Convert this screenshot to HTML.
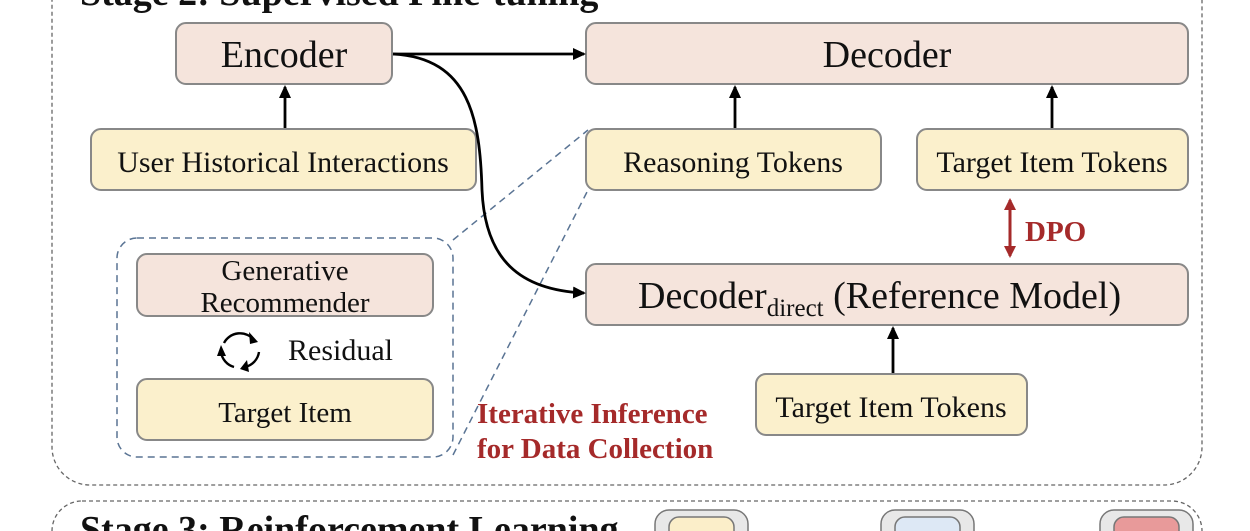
<!DOCTYPE html>
<html><head><meta charset="utf-8"><style>
html,body{margin:0;padding:0;background:#fff;width:1250px;height:531px;overflow:hidden}
svg{display:block}
text{font-family:"Liberation Serif",serif;fill:#111}
</style></head><body>
<svg width="1250" height="531" viewBox="0 0 1250 531" xmlns="http://www.w3.org/2000/svg">
<defs>
<marker id="ah" markerWidth="14" markerHeight="14" refX="11" refY="6" orient="auto" markerUnits="userSpaceOnUse"><path d="M0,0 L13,6 L0,12 z" fill="#000"/></marker>
<marker id="rh" markerWidth="14" markerHeight="14" refX="10" refY="6" orient="auto-start-reverse" markerUnits="userSpaceOnUse"><path d="M0,0 L12,6 L0,12 z" fill="#a52a2a"/></marker>
</defs>
<rect x="52" y="-60" width="1150" height="545" rx="38" fill="none" stroke="#666" stroke-width="1.3" stroke-dasharray="4,3"/>
<text x="80" y="5" font-size="38" font-weight="bold">Stage 2: Supervised Fine-tuning</text>
<rect x="52" y="501" width="1150" height="100" rx="30" fill="none" stroke="#666" stroke-width="1.3" stroke-dasharray="4,3"/>
<text x="80" y="542" font-size="38" font-weight="bold">Stage 3: Reinforcement Learning</text>
<rect x="655" y="510" width="93" height="50" rx="14" fill="#e8e8e8" stroke="#777" stroke-width="1.5"/>
<rect x="669" y="517" width="65" height="40" rx="10" fill="#fbeec9" stroke="#777" stroke-width="1.5"/>
<rect x="881" y="510" width="93" height="50" rx="14" fill="#e8e8e8" stroke="#777" stroke-width="1.5"/>
<rect x="895" y="517" width="65" height="40" rx="10" fill="#dde8f5" stroke="#777" stroke-width="1.5"/>
<rect x="1100" y="510" width="93" height="50" rx="14" fill="#e8e8e8" stroke="#777" stroke-width="1.5"/>
<rect x="1114" y="517" width="65" height="40" rx="10" fill="#e89a9a" stroke="#777" stroke-width="1.5"/>

<line x1="453" y1="240" x2="588" y2="130" stroke="#5a7494" stroke-width="1.5" stroke-dasharray="7,5"/>
<line x1="453" y1="455" x2="588" y2="190" stroke="#5a7494" stroke-width="1.5" stroke-dasharray="7,5"/>

<g stroke="#888" stroke-width="2">
<rect x="176" y="23" width="216" height="61" rx="10" fill="#f5e4dc"/>
<rect x="586" y="23" width="602" height="61" rx="10" fill="#f5e4dc"/>
<rect x="91" y="129" width="385" height="61" rx="10" fill="#fbf0cc"/>
<rect x="586" y="129" width="295" height="61" rx="10" fill="#fbf0cc"/>
<rect x="917" y="129" width="271" height="61" rx="10" fill="#fbf0cc"/>
<rect x="586" y="264" width="602" height="61" rx="10" fill="#f5e4dc"/>
<rect x="756" y="374" width="271" height="61" rx="10" fill="#fbf0cc"/>
<rect x="137" y="254" width="296" height="62" rx="10" fill="#f5e4dc"/>
<rect x="137" y="379" width="296" height="61" rx="10" fill="#fbf0cc"/>
</g>
<rect x="117" y="238" width="336" height="219" rx="20" fill="none" stroke="#5a7494" stroke-width="1.5" stroke-dasharray="7,5"/>

<g stroke="#000" stroke-width="2.8" fill="none">
<line x1="393" y1="54" x2="584" y2="54" marker-end="url(#ah)"/>
<path d="M393,54 C470,58 480,120 482,190 C485,260 520,290 584,293" marker-end="url(#ah)"/>
<line x1="285" y1="128" x2="285" y2="87" marker-end="url(#ah)"/>
<line x1="735" y1="128" x2="735" y2="87" marker-end="url(#ah)"/>
<line x1="1052" y1="128" x2="1052" y2="87" marker-end="url(#ah)"/>
<line x1="893" y1="373" x2="893" y2="328" marker-end="url(#ah)"/>
</g>
<line x1="1010" y1="200" x2="1010" y2="256" stroke="#a52a2a" stroke-width="3" marker-start="url(#rh)" marker-end="url(#rh)"/>
<text x="1025" y="241" font-size="29" font-weight="bold" style="fill:#a52a2a">DPO</text>

<g stroke="#000" stroke-width="2.4" fill="none">
<path d="M224,343 A18,18 0 0 1 254,340"/>
<path d="M259,352 A18,18 0 0 1 245,367"/>
<path d="M234,367 A18,18 0 0 1 221,352"/>
</g>
<path d="M249,332 L258,342 L250,344 z" fill="#000"/>
<path d="M247,360 L240,369 L249,372 z" fill="#000"/>
<path d="M217,356 L221,345 L226,356 z" fill="#000"/>

<g text-anchor="middle">
<text x="284" y="67" font-size="38">Encoder</text>
<text x="887" y="67" font-size="38">Decoder</text>
<text x="283" y="172" font-size="30">User Historical Interactions</text>
<text x="733" y="172" font-size="30">Reasoning Tokens</text>
<text x="1052" y="172" font-size="30">Target Item Tokens</text>
<text x="891" y="417" font-size="30">Target Item Tokens</text>
<text x="285" y="280" font-size="29">Generative</text>
<text x="285" y="312" font-size="29">Recommender</text>
<text x="285" y="422" font-size="29">Target Item</text>
</g>
<text x="638" y="308" font-size="38">Decoder<tspan font-size="25" dy="8">direct</tspan><tspan dy="-8"> (Reference Model)</tspan></text>
<text x="288" y="360" font-size="30">Residual</text>
<text x="477" y="423" font-size="29" font-weight="bold" style="fill:#a52a2a">Iterative Inference</text>
<text x="477" y="458" font-size="29" font-weight="bold" style="fill:#a52a2a">for Data Collection</text>
</svg>
</body></html>
